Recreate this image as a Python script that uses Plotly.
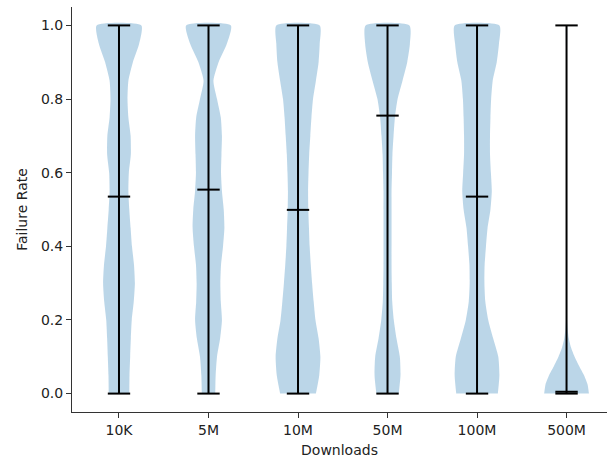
import plotly.graph_objects as go

categories = ["10K", "5M", "10M", "50M", "100M", "500M"]
positions = [1, 2, 3, 4, 5, 6]
data_min = [0.0, 0.0, 0.0, 0.0, 0.0, 0.0]
data_max = [1.0, 1.0, 1.0, 1.0, 1.0, 1.0]
medians = [0.535, 0.554, 0.499, 0.755, 0.535, 0.005]

# KDE profile (relative density, max = 1)
levels = [0.0, 0.05, 0.1, 0.15, 0.2, 0.25, 0.3, 0.35, 0.4, 0.45, 0.5,
          0.55, 0.6, 0.65, 0.7, 0.75, 0.8, 0.85, 0.9, 0.95, 1.0]
dens_10k = [0.46, 0.47, 0.50, 0.53, 0.57, 0.66, 0.71, 0.67, 0.58, 0.52, 0.46,
            0.42, 0.44, 0.53, 0.52, 0.42, 0.38, 0.42, 0.62, 0.90, 1.00]
dens_5m = [0.30, 0.32, 0.38, 0.52, 0.60, 0.55, 0.53, 0.56, 0.65, 0.71, 0.68,
           0.60, 0.56, 0.58, 0.60, 0.55, 0.38, 0.22, 0.45, 0.82, 1.00]
dens_10m = [0.80, 0.95, 1.00, 0.92, 0.78, 0.70, 0.63, 0.57, 0.52, 0.49, 0.46,
            0.45, 0.47, 0.50, 0.55, 0.60, 0.67, 0.80, 0.92, 0.97, 0.97]
dens_50m = [0.50, 0.58, 0.55, 0.40, 0.28, 0.21, 0.19, 0.18, 0.18, 0.18, 0.18,
            0.18, 0.20, 0.22, 0.27, 0.33, 0.45, 0.67, 0.88, 1.00, 0.98]
dens_100m = [0.93, 1.00, 0.95, 0.72, 0.50, 0.37, 0.33, 0.34, 0.40, 0.47, 0.60,
             0.66, 0.62, 0.58, 0.58, 0.60, 0.63, 0.70, 0.88, 0.98, 1.00]
levels_500m = [0.0, 0.025, 0.05, 0.075, 0.1, 0.125, 0.15, 0.175, 0.2, 0.3,
               0.5, 0.7, 0.9, 1.0]
dens_500m = [1.00, 0.94, 0.78, 0.56, 0.36, 0.20, 0.10, 0.05, 0.025, 0.012,
             0.01, 0.01, 0.012, 0.015]

profiles = [
    (levels, dens_10k), (levels, dens_5m), (levels, dens_10m),
    (levels, dens_50m), (levels, dens_100m), (levels_500m, dens_500m),
]

HALF = 0.25   # half of violin width (widths=0.5)
CAP = 0.125   # half length of caps/median lines
FILL = "rgba(31,119,180,0.3)"
LINE = "black"

fig = go.Figure()

for pos, (lv, dn) in zip(positions, profiles):
    m = max(dn)
    xs = [pos + HALF * d / m for d in dn] + [pos - HALF * d / m for d in reversed(dn)]
    ys = list(lv) + list(reversed(lv))
    fig.add_trace(go.Scatter(x=xs, y=ys, mode="lines", fill="toself",
                             fillcolor=FILL, line=dict(width=0, shape="spline", smoothing=0.6),
                             hoverinfo="skip", showlegend=False))

for pos, lo, hi, med in zip(positions, data_min, data_max, medians):
    fig.add_trace(go.Scatter(x=[pos, pos], y=[lo, hi], mode="lines",
                             line=dict(color=LINE, width=2), showlegend=False, hoverinfo="skip"))
    for yv in (lo, hi, med):
        fig.add_trace(go.Scatter(x=[pos - CAP, pos + CAP], y=[yv, yv], mode="lines",
                                 line=dict(color=LINE, width=2), showlegend=False, hoverinfo="skip"))

font = dict(family="DejaVu Sans", size=14, color="#222")
fig.update_layout(
    width=607, height=461,
    margin=dict(l=72, r=0, t=7, b=49),
    plot_bgcolor="white", paper_bgcolor="white",
    font=font,
    xaxis=dict(range=[0.475, 6.452], tickmode="array", tickvals=positions, ticktext=categories,
               showgrid=False, zeroline=False, showline=True, linecolor="#333", linewidth=1,
               ticks="outside", ticklen=5, tickcolor="#333", tickfont=font,
               title=dict(text="Downloads", font=font, standoff=8)),
    yaxis=dict(range=[-0.05, 1.05], tickmode="array", tickvals=[0, 0.2, 0.4, 0.6, 0.8, 1.0],
               tickformat=".1f", showgrid=False, zeroline=False, showline=True, linecolor="#333",
               linewidth=1, ticks="outside", ticklen=5, tickcolor="#333", tickfont=font,
               title=dict(text="Failure Rate", font=font, standoff=10)),
)

fig.write_html("out.html", config={"displayModeBar": False},
               post_script="document.body.style.margin='0';document.body.style.padding='0';")
